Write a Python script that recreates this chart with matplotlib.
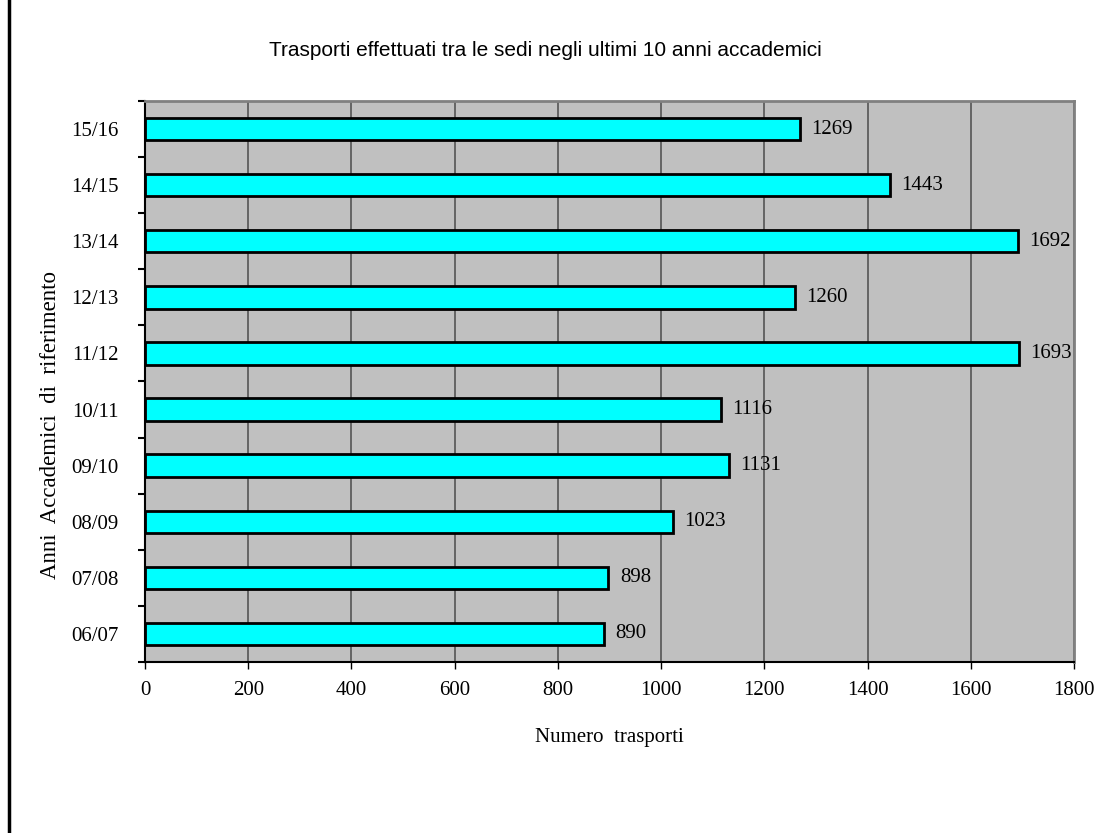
import matplotlib.pyplot as plt
from matplotlib.lines import Line2D

anni = ['06/07', '07/08', '08/09', '09/10', '10/11', '11/12', '12/13', '13/14', '14/15', '15/16']
trasporti = [890, 898, 1023, 1131, 1116, 1693, 1260, 1692, 1443, 1269]
x_ticks = [0, 200, 400, 600, 800, 1000, 1200, 1400, 1600, 1800]

serif = ['Liberation Serif', 'DejaVu Serif']

fig = plt.figure(figsize=(11.16, 8.33), dpi=100)
ax = fig.add_axes([145/1116, 1 - 662/833, (1074-145)/1116, (662-101)/833])
ax.set_facecolor('#c0c0c0')

pos = list(range(len(anni)))
ax.barh(pos, trasporti, height=0.4, color='#00ffff', edgecolor='black', linewidth=2, zorder=3)

# etichette dei valori
for p, v in zip(pos, trasporti):
    ax.text(v + 22, p, str(v), va='center', ha='left', fontsize=15, family=serif, zorder=4)

ax.set_xlim(0, 1800)
ax.set_ylim(-0.5, len(anni) - 0.5)
ax.set_xticks(x_ticks)
ax.set_xticklabels([str(t) for t in x_ticks], fontsize=15, family=serif)
ax.set_yticks(pos)
ax.set_yticklabels(anni, fontsize=15, family=serif)
ax.set_yticks([p - 0.5 for p in pos] + [len(anni) - 0.5], minor=True)
ax.tick_params(axis='y', which='major', length=0, pad=19)
ax.tick_params(axis='y', which='minor', length=5, width=1.5, direction='out')
ax.tick_params(axis='x', length=5, width=1, pad=9)
ax.grid(axis='x', color='#555555', linewidth=1.2, zorder=1)

ax.spines['top'].set_color('#808080')
ax.spines['right'].set_color('#808080')
ax.spines['top'].set_linewidth(2)
ax.spines['right'].set_linewidth(2)
ax.spines['bottom'].set_linewidth(1.5)
ax.spines['left'].set_linewidth(1.5)

ax.set_xlabel('Numero  trasporti', fontsize=15, family=serif, labelpad=20)

fig.text(51/1116, 1 - 425/833, 'Anni  Accademici  di  riferimento', rotation=90,
         ha='center', va='center', fontsize=16.5, family=serif)

fig.text(545/1116, 1 - 50/833, 'Trasporti effettuati tra le sedi negli ultimi 10 anni accademici',
         ha='center', va='center', fontsize=15,
         family=['Liberation Sans Narrow', 'Liberation Sans', 'DejaVu Sans'])

# bordo sinistro
fig.add_artist(Line2D([9/1116, 9/1116], [0, 1], color='black', linewidth=2.5, transform=fig.transFigure))

plt.savefig('out.png', dpi=100)
